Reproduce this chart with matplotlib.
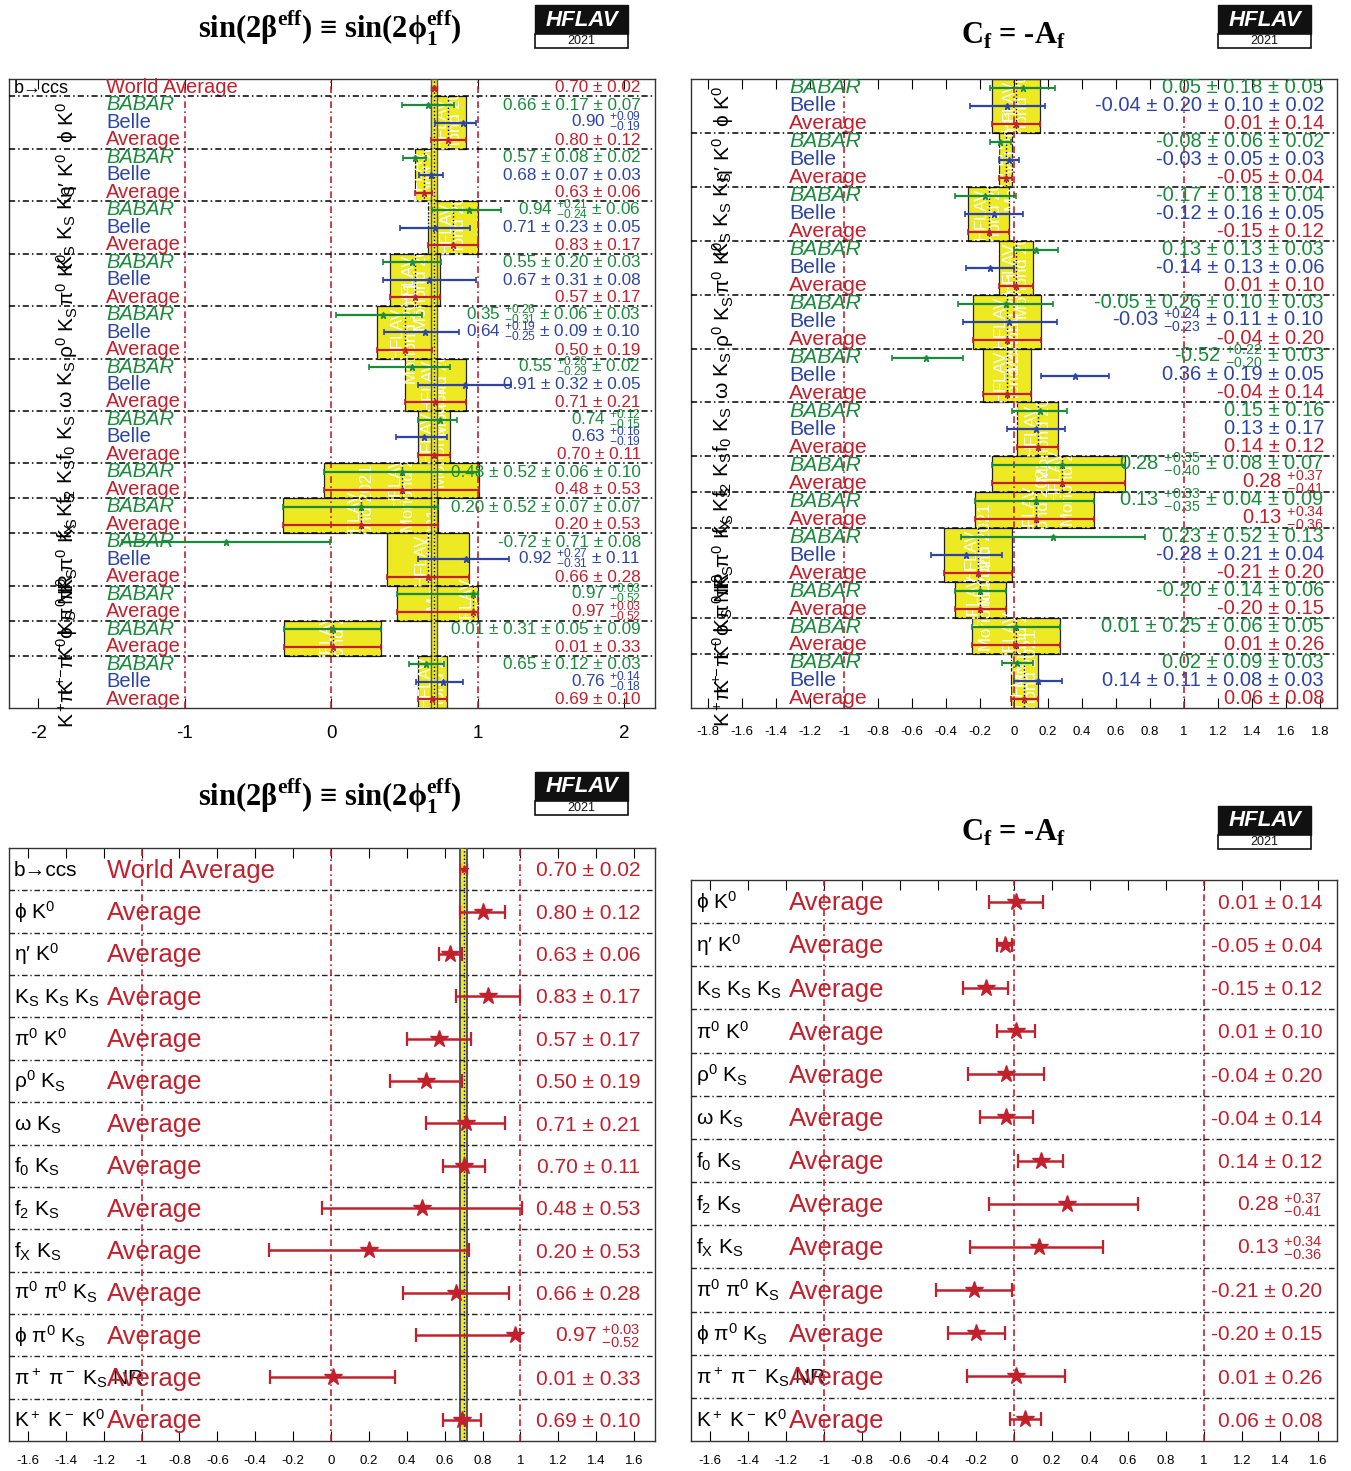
import matplotlib
matplotlib.use("Agg")
from matplotlib import pyplot as plt
from matplotlib import patches, transforms

plt.rcParams['font.family'] = ['Liberation Sans', 'DejaVu Sans']
plt.rcParams['mathtext.fontset'] = 'custom'
plt.rcParams['mathtext.rm'] = 'Liberation Sans'
plt.rcParams['mathtext.sf'] = 'Liberation Sans'
plt.rcParams['mathtext.it'] = 'Liberation Sans:italic'
plt.rcParams['mathtext.bf'] = 'Liberation Serif:bold'

GREEN = '#1a8a3c'
BLUE = '#2c44a6'
RED = '#c2202c'
YELLOW = '#ede922'

# decay modes (same order in every panel)
modes = [r'ϕ K$^0$', r'η′ K$^0$', r'K$_\mathrm{S}$ K$_\mathrm{S}$ K$_\mathrm{S}$',
         r'π$^0$ K$^0$', r'ρ$^0$ K$_\mathrm{S}$', r'ω K$_\mathrm{S}$',
         r'f$_0$ K$_\mathrm{S}$', r'f$_2$ K$_\mathrm{S}$', r'f$_\mathrm{X}$ K$_\mathrm{S}$',
         r'π$^0$ π$^0$ K$_\mathrm{S}$', r'ϕ π$^0$ K$_\mathrm{S}$',
         r'π$^+$ π$^-$ K$_\mathrm{S}$ NR', r'K$^+$ K$^-$ K$^0$']

# sin(2beta_eff): world average from b -> ccs
s_wa_val = 0.70
s_wa_err = 0.02
s_wa_txt = '0.70 ± 0.02'

s_babar_val = [0.66, 0.57, 0.94, 0.55, 0.35, 0.55, 0.74, 0.48, 0.20, -0.72, 0.97, 0.01, 0.65]
s_babar_lo = [0.18, 0.08, 0.25, 0.20, 0.32, 0.29, 0.15, 0.53, 0.53, 0.71, 0.52, 0.33, 0.12]
s_babar_hi = [0.18, 0.08, 0.22, 0.20, 0.27, 0.26, 0.12, 0.53, 0.53, 0.71, 0.03, 0.33, 0.12]
s_babar_txt = ['0.66 ± 0.17 ± 0.07', '0.57 ± 0.08 ± 0.02', r'0.94 $^{+0.21}_{-0.24}$ ± 0.06',
               '0.55 ± 0.20 ± 0.03', r'0.35 $^{+0.26}_{-0.31}$ ± 0.06 ± 0.03',
               r'0.55 $^{+0.26}_{-0.29}$ ± 0.02', r'0.74 $^{+0.12}_{-0.15}$',
               '0.48 ± 0.52 ± 0.06 ± 0.10', '0.20 ± 0.52 ± 0.07 ± 0.07', '-0.72 ± 0.71 ± 0.08',
               r'0.97 $^{+0.03}_{-0.52}$', '0.01 ± 0.31 ± 0.05 ± 0.09', '0.65 ± 0.12 ± 0.03']

s_belle_val = [0.90, 0.68, 0.71, 0.67, 0.64, 0.91, 0.63, None, None, 0.92, None, None, 0.76]
s_belle_lo = [0.19, 0.08, 0.24, 0.32, 0.28, 0.32, 0.19, None, None, 0.33, None, None, 0.18]
s_belle_hi = [0.09, 0.08, 0.24, 0.32, 0.23, 0.32, 0.16, None, None, 0.29, None, None, 0.14]
s_belle_txt = [r'0.90 $^{+0.09}_{-0.19}$', '0.68 ± 0.07 ± 0.03', '0.71 ± 0.23 ± 0.05',
               '0.67 ± 0.31 ± 0.08', r'0.64 $^{+0.19}_{-0.25}$ ± 0.09 ± 0.10',
               '0.91 ± 0.32 ± 0.05', r'0.63 $^{+0.16}_{-0.19}$', None, None,
               r'0.92 $^{+0.27}_{-0.31}$ ± 0.11', None, None, r'0.76 $^{+0.14}_{-0.18}$']

s_avg_val = [0.80, 0.63, 0.83, 0.57, 0.50, 0.71, 0.70, 0.48, 0.20, 0.66, 0.97, 0.01, 0.69]
s_avg_lo = [0.12, 0.06, 0.17, 0.17, 0.19, 0.21, 0.11, 0.53, 0.53, 0.28, 0.52, 0.33, 0.10]
s_avg_hi = [0.12, 0.06, 0.17, 0.17, 0.19, 0.21, 0.11, 0.53, 0.53, 0.28, 0.03, 0.33, 0.10]
s_avg_txt = ['0.80 ± 0.12', '0.63 ± 0.06', '0.83 ± 0.17', '0.57 ± 0.17', '0.50 ± 0.19',
             '0.71 ± 0.21', '0.70 ± 0.11', '0.48 ± 0.53', '0.20 ± 0.53', '0.66 ± 0.28',
             r'0.97 $^{+0.03}_{-0.52}$', '0.01 ± 0.33', '0.69 ± 0.10']

# C_f = -A_f
c_babar_val = [0.05, -0.08, -0.17, 0.13, -0.05, -0.52, 0.15, 0.28, 0.13, 0.23, -0.20, 0.01, 0.02]
c_babar_lo = [0.19, 0.06, 0.18, 0.13, 0.28, 0.20, 0.16, 0.41, 0.36, 0.54, 0.15, 0.26, 0.09]
c_babar_hi = [0.19, 0.06, 0.18, 0.13, 0.28, 0.22, 0.16, 0.37, 0.34, 0.54, 0.15, 0.26, 0.09]
c_babar_txt = ['0.05 ± 0.18 ± 0.05', '-0.08 ± 0.06 ± 0.02', '-0.17 ± 0.18 ± 0.04',
               '0.13 ± 0.13 ± 0.03', '-0.05 ± 0.26 ± 0.10 ± 0.03',
               r'-0.52 $^{+0.22}_{-0.20}$ ± 0.03', '0.15 ± 0.16',
               r'0.28 $^{+0.35}_{-0.40}$ ± 0.08 ± 0.07', r'0.13 $^{+0.33}_{-0.35}$ ± 0.04 ± 0.09',
               '0.23 ± 0.52 ± 0.13', '-0.20 ± 0.14 ± 0.06', '0.01 ± 0.25 ± 0.06 ± 0.05',
               '0.02 ± 0.09 ± 0.03']

c_belle_val = [-0.04, -0.03, -0.12, -0.14, -0.03, 0.36, 0.13, None, None, -0.28, None, None, 0.14]
c_belle_lo = [0.22, 0.06, 0.17, 0.14, 0.27, 0.20, 0.17, None, None, 0.21, None, None, 0.14]
c_belle_hi = [0.22, 0.06, 0.17, 0.14, 0.28, 0.20, 0.17, None, None, 0.21, None, None, 0.14]
c_belle_txt = ['-0.04 ± 0.20 ± 0.10 ± 0.02', '-0.03 ± 0.05 ± 0.03', '-0.12 ± 0.16 ± 0.05',
               '-0.14 ± 0.13 ± 0.06', r'-0.03 $^{+0.24}_{-0.23}$ ± 0.11 ± 0.10',
               '0.36 ± 0.19 ± 0.05', '0.13 ± 0.17', None, None, '-0.28 ± 0.21 ± 0.04',
               None, None, '0.14 ± 0.11 ± 0.08 ± 0.03']

c_avg_val = [0.01, -0.05, -0.15, 0.01, -0.04, -0.04, 0.14, 0.28, 0.13, -0.21, -0.20, 0.01, 0.06]
c_avg_lo = [0.14, 0.04, 0.12, 0.10, 0.20, 0.14, 0.12, 0.41, 0.36, 0.20, 0.15, 0.26, 0.08]
c_avg_hi = [0.14, 0.04, 0.12, 0.10, 0.20, 0.14, 0.12, 0.37, 0.34, 0.20, 0.15, 0.26, 0.08]
c_avg_txt = ['0.01 ± 0.14', '-0.05 ± 0.04', '-0.15 ± 0.12', '0.01 ± 0.10', '-0.04 ± 0.20',
             '-0.04 ± 0.14', '0.14 ± 0.12', r'0.28 $^{+0.37}_{-0.41}$',
             r'0.13 $^{+0.34}_{-0.36}$', '-0.21 ± 0.20', '-0.20 ± 0.15', '0.01 ± 0.26',
             '0.06 ± 0.08']

W, H = 1351, 1471
fig = plt.figure(figsize=(W / 100, H / 100), dpi=100)


def px_axes(x0, y0, x1, y1):
    return fig.add_axes([x0 / W, 1 - y1 / H, (x1 - x0) / W, (y1 - y0) / H])


def logo(x0, y0):
    tr = fig.transFigure
    fig.add_artist(patches.Rectangle((x0 / W, 1 - (y0 + 29) / H), 93 / W, 29 / H,
                                     facecolor='#111111', edgecolor='#111111', transform=tr))
    fig.add_artist(patches.Rectangle((x0 / W, 1 - (y0 + 43) / H), 93 / W, 14 / H,
                                     facecolor='white', edgecolor='#111111', lw=1.2, transform=tr))
    fig.text((x0 + 46.5) / W, 1 - (y0 + 15) / H, 'HFLAV', color='white', fontsize=16,
             fontweight='bold', style='italic', ha='center', va='center')
    fig.text((x0 + 46.5) / W, 1 - (y0 + 36) / H, '2021', color='#111111', fontsize=9,
             ha='center', va='center')


def title(x, y, txt):
    fig.text(x / W, 1 - y / H, txt, fontsize=22, fontweight='bold',
             family=['Liberation Serif', 'DejaVu Serif'], ha='center', va='center')


S_TITLE = r'sin(2β$^{\mathbf{eff}}$) ≡ sin(2ϕ$_{\mathbf{1}}^{\mathbf{eff}}$)'
C_TITLE = r'C$_{\mathbf{f}}$ = -A$_{\mathbf{f}}$'


def frame(ax, xlim, nrows, ticks, ticklabels, tick_fs, redlines, pad):
    ax.set_xlim(*xlim)
    ax.set_ylim(nrows, 0)
    ax.set_yticks([])
    ax.set_xticks(ticks)
    ax.set_xticklabels(ticklabels)
    ax.tick_params(axis='x', direction='in', top=True, bottom=True, length=7,
                   width=0.8, labelsize=tick_fs, pad=pad)
    for s in ax.spines.values():
        s.set_linewidth(1.0)
        s.set_color('#333333')
    for x in redlines:
        ax.axvline(x, color=RED, ls=(0, (4, 2, 1, 2)), lw=1.2, zorder=3)


def detail_panel(ax, first_row, bv, bl, bh, bt, ev, el, eh, et, av, al, ah, at,
                 label_x, name_x, val_x, name_fs, val_fs, label_fs):
    tr = transforms.blended_transform_factory(ax.transAxes, ax.transData)
    row = first_row
    for i, mode in enumerate(modes):
        entries = [('BABAR', GREEN, bv[i], bl[i], bh[i], bt[i])]
        if ev[i] is not None:
            entries.append(('Belle', BLUE, ev[i], el[i], eh[i], et[i]))
        entries.append(('Average', RED, av[i], al[i], ah[i], at[i]))
        top = row
        bottom = row + len(entries)
        rect = patches.Rectangle((av[i] - al[i], top), al[i] + ah[i], bottom - top,
                                 facecolor=YELLOW, edgecolor='#222222', lw=0.9, zorder=1)
        ax.add_patch(rect)
        wm = ax.text(av[i], (top + bottom) / 2, 'HFLAV\nMoriond 2021', rotation=90,
                     color='white', fontsize=12, ha='center', va='center',
                     linespacing=0.9, zorder=1.5)
        wm.set_clip_path(rect)
        ax.plot([av[i], av[i]], [top, bottom], color='black', ls=':', lw=1, zorder=2)
        for name, color, v, lo, hi, txt in entries:
            y = row + 0.5
            ax.errorbar([v], [y], xerr=[[lo], [hi]], fmt='*', color=color, ms=5, lw=1.6,
                        capsize=2, capthick=1.2, zorder=5)
            ax.text(name_x, y + 0.3, name, transform=tr, color=color, fontsize=name_fs,
                    style='italic' if name == 'BABAR' else 'normal', ha='left',
                    va='baseline', zorder=6)
            ax.text(val_x, y + 0.27, txt, transform=tr, color=color, fontsize=val_fs,
                    ha='right', va='baseline', zorder=6)
            row += 1
        if bottom < ax.get_ylim()[0]:
            ax.axhline(bottom, color='black', ls=(0, (4, 2, 1, 2)), lw=1.1, zorder=4)
        ax.text(label_x, (top + bottom) / 2, mode, transform=tr, rotation=90,
                fontsize=label_fs, ha='center', va='center', zorder=6)


def summary_panel(ax, first_row, av, al, ah, at, name_fs):
    tr = transforms.blended_transform_factory(ax.transAxes, ax.transData)
    for i, mode in enumerate(modes):
        y = first_row + i + 0.5
        ax.errorbar([av[i]], [y], xerr=[[al[i]], [ah[i]]], fmt='*', color=RED, ms=13,
                    lw=1.8, capsize=5, capthick=1.6, zorder=5)
        ax.text(0.008, y + 0.17, mode, transform=tr, fontsize=15, ha='left', va='baseline',
                zorder=6)
        ax.text(0.151, y + 0.2, 'Average', transform=tr, fontsize=name_fs, color=RED,
                ha='left', va='baseline', zorder=6)
        ax.text(0.977, y + 0.17, at[i], transform=tr, fontsize=15, color=RED, ha='right',
                va='baseline', zorder=6)
        if first_row + i > 0:
            ax.axhline(first_row + i, color='#222222', ls=(0, (4, 2, 1, 2)), lw=1.0, zorder=4)


def wa_band(ax, lw_edge):
    ax.axvspan(s_wa_val - s_wa_err, s_wa_val + s_wa_err, facecolor=YELLOW,
               edgecolor='#555555', lw=lw_edge, zorder=3)
    ax.axvline(s_wa_val, color='black', ls=':', lw=1.0, zorder=3)


# top left: sin(2beta_eff) details
ax1 = px_axes(9, 79, 655, 708)
frame(ax1, (-2.2, 2.21), 36, [-2, -1, 0, 1, 2], ['-2', '-1', '0', '1', '2'], 13.5,
      [-1, 0, 1], 12)
wa_band(ax1, 1.0)
tr1 = transforms.blended_transform_factory(ax1.transAxes, ax1.transData)
ax1.errorbar([s_wa_val], [0.5], xerr=[[s_wa_err], [s_wa_err]], fmt='*', color=RED, ms=5,
             lw=1.6, capsize=2, zorder=5)
ax1.text(0.008, 0.78, 'b→ccs', transform=tr1, fontsize=13, ha='left', va='baseline')
ax1.text(0.150, 0.8, 'World Average', transform=tr1, fontsize=14.5, color=RED, ha='left',
         va='baseline')
ax1.text(0.978, 0.77, s_wa_txt, transform=tr1, fontsize=12.3, color=RED, ha='right',
         va='baseline')
ax1.axhline(1, color='black', ls=(0, (4, 2, 1, 2)), lw=1.1, zorder=4)
detail_panel(ax1, 1, s_babar_val, s_babar_lo, s_babar_hi, s_babar_txt,
             s_belle_val, s_belle_lo, s_belle_hi, s_belle_txt,
             s_avg_val, s_avg_lo, s_avg_hi, s_avg_txt, 0.09, 0.150, 0.978,
             14.5, 12.3, 15)

# top right: C_f details
ax2 = px_axes(691, 79, 1337, 708)
cticks = [round(-1.8 + 0.2 * k, 1) for k in range(19)]
frame(ax2, (-1.9, 1.9), 35, cticks, ['%g' % t for t in cticks], 9.5, [-1, 0, 1], 13)
detail_panel(ax2, 0, c_babar_val, c_babar_lo, c_babar_hi, c_babar_txt,
             c_belle_val, c_belle_lo, c_belle_hi, c_belle_txt,
             c_avg_val, c_avg_lo, c_avg_hi, c_avg_txt, 0.05, 0.152, 0.980,
             15.3, 14.5, 15)

# bottom left: sin(2beta_eff) averages
ax3 = px_axes(9, 848, 655, 1441)
sticks = [round(-1.6 + 0.2 * k, 1) for k in range(17)]
frame(ax3, (-1.7, 1.71), 14, sticks, ['%g' % t for t in sticks], 9.5, [-1, 0, 1], 10)
wa_band(ax3, 1.4)
tr3 = transforms.blended_transform_factory(ax3.transAxes, ax3.transData)
ax3.errorbar([s_wa_val], [0.5], xerr=[[s_wa_err], [s_wa_err]], fmt='*', color=RED, ms=6,
             lw=1.8, capsize=4, zorder=5)
ax3.text(0.008, 0.67, 'b→ccs', transform=tr3, fontsize=15, ha='left', va='baseline')
ax3.text(0.151, 0.7, 'World Average', transform=tr3, fontsize=18.5, color=RED, ha='left',
         va='baseline')
ax3.text(0.977, 0.67, s_wa_txt, transform=tr3, fontsize=15, color=RED, ha='right',
         va='baseline')
summary_panel(ax3, 1, s_avg_val, s_avg_lo, s_avg_hi, s_avg_txt, 18.5)

# bottom right: C_f averages
ax4 = px_axes(691, 880, 1337, 1441)
frame(ax4, (-1.7, 1.7), 13, sticks, ['%g' % t for t in sticks], 9.5, [-1, 0, 1], 10)
summary_panel(ax4, 0, c_avg_val, c_avg_lo, c_avg_hi, c_avg_txt, 18.5)

title(330, 28, S_TITLE)
title(1013, 36, C_TITLE)
title(330, 796, S_TITLE)
title(1013, 833, C_TITLE)
logo(535, 5)
logo(1218, 5)
logo(535, 772)
logo(1218, 806)

fig.savefig('out.png', dpi=100)
